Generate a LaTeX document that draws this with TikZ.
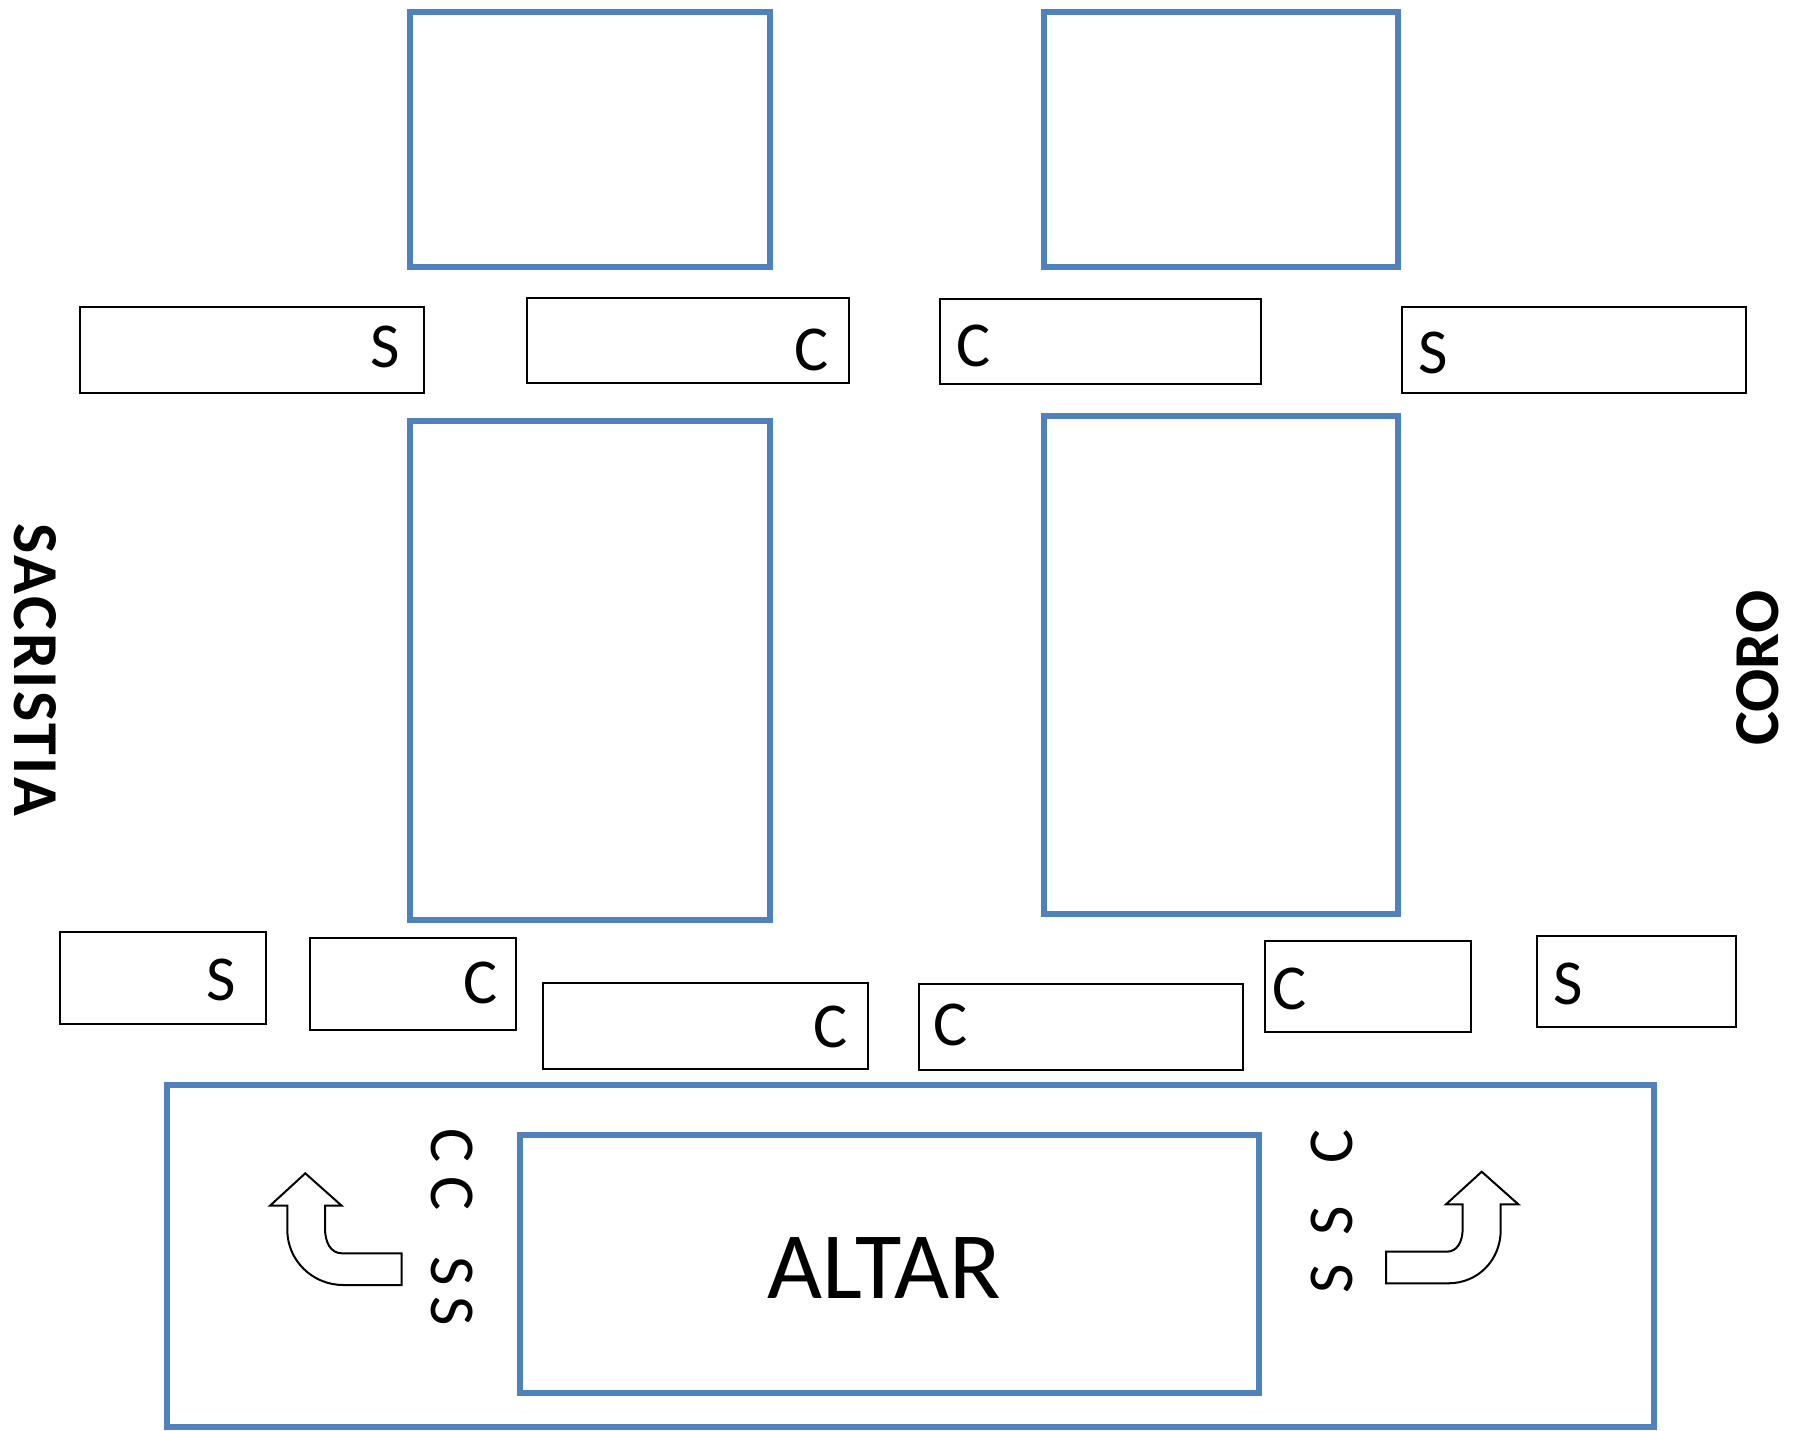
\documentclass[tikz,border=0pt]{standalone}
\usepackage{fontspec}
\setmainfont{Carlito}
\definecolor{blu}{HTML}{4F81BD}
\begin{document}
\begin{tikzpicture}[x=1pt,y=-1pt,
  bluebox/.style={draw=blu,line width=6pt,inner sep=0pt},
  seat/.style={draw=black,line width=2pt,inner sep=0pt},
  lett/.style={inner sep=0pt,font=\fontsize{64}{64}\selectfont},
  side/.style={inner sep=0pt,font=\fontsize{64}{64}\selectfont\bfseries},
  bigtext/.style={inner sep=0pt,font=\fontsize{95}{95}\selectfont},
  turnarrow/.style={draw=black,line width=2pt,fill=white,line join=miter}]
\useasboundingbox (0,0) rectangle (1798,1430);
% blue blocks
\node[bluebox,minimum width=360pt,minimum height=254.5pt] (tl) at (590,139.25) {};
\node[bluebox,minimum width=354pt,minimum height=254.5pt] (tr) at (1220.5,139.25) {};
\node[bluebox,minimum width=360pt,minimum height=499pt] (ml) at (590,670.5) {};
\node[bluebox,minimum width=354pt,minimum height=497.5pt] (mr) at (1220.5,664.75) {};
\node[bluebox,minimum width=1487pt,minimum height=342.5pt] (outer) at (910,1255.75) {};
\node[bluebox,minimum width=739pt,minimum height=258.5pt] (altar) at (889.5,1263.75) {};
\node[bigtext] (altart) at (884,1268) {ALTAR};
% seats top row
\node[seat,minimum width=344pt,minimum height=86pt] (s1) at (252,350) {};
\node[seat,minimum width=322pt,minimum height=85pt] (c1) at (688,340.5) {};
\node[seat,minimum width=321pt,minimum height=85pt] (c2) at (1100.5,341.5) {};
\node[seat,minimum width=344pt,minimum height=86pt] (s2) at (1574,350) {};
% seats bottom row
\node[seat,minimum width=206pt,minimum height=92pt] (s3) at (162.5,978) {};
\node[seat,minimum width=206pt,minimum height=92pt] (c3) at (413,984) {};
\node[seat,minimum width=325pt,minimum height=86pt] (c4) at (705.5,1026) {};
\node[seat,minimum width=324pt,minimum height=86pt] (c5) at (1081,1027) {};
\node[seat,minimum width=206pt,minimum height=91pt] (c6) at (1368,986.5) {};
\node[seat,minimum width=199pt,minimum height=91pt] (s4) at (1636.5,981.5) {};
% letters
\node[lett] (ls1) at (385,347) {S};
\node[lett] (lc1) at (812,350) {C};
\node[lett] (lc2) at (974,346) {C};
\node[lett] (ls2) at (1433,353) {S};
\node[lett] (ls3) at (221,980) {S};
\node[lett] (lc3) at (481,983) {C};
\node[lett] (lc4) at (831,1027) {C};
\node[lett] (lc5) at (951,1025) {C};
\node[lett] (lc6) at (1290,989) {C};
\node[lett] (ls4) at (1568,984) {S};
% vertical letters beside altar
\node[lett,rotate=-90] (v1) at (452,1146) {C};
\node[lett,rotate=-90] (v2) at (452,1194) {C};
\node[lett,rotate=-90] (v3) at (452,1271) {S};
\node[lett,rotate=-90] (v4) at (452,1311) {S};
\node[lett,rotate=90] (w1) at (1332,1146) {C};
\node[lett,rotate=90] (w2) at (1332,1221) {S};
\node[lett,rotate=90] (w3) at (1332,1279) {S};
% side labels
\node[side,rotate=-90] (sac) at (35,670) {\addfontfeature{LetterSpace=4.0}SACRISTIA};
\node[side,rotate=90] (coro) at (1757.5,668) {CORO};
% turning arrows
\draw[turnarrow] (305.3,1173.3) -- (341.7,1205.7) -- (325,1205.7) -- (325,1228)
  .. controls (325,1243) and (331,1253.3) .. (342,1253.3) -- (401.7,1253.3) -- (401.7,1285)
  -- (343.3,1285) .. controls (312,1285) and (287.3,1260) .. (287.3,1230)
  -- (287.3,1205.7) -- (270,1205.7) -- cycle;
\draw[turnarrow] (1481.7,1171.7) -- (1518.3,1204.3) -- (1500.7,1204.3) -- (1500.7,1230)
  .. controls (1500.7,1260) and (1478,1283.3) .. (1448.3,1283.3) -- (1386,1283.3)
  -- (1386,1251.7) -- (1446.7,1251.7) .. controls (1457,1251.7) and (1462.7,1242) .. (1462.7,1228)
  -- (1462.7,1204.3) -- (1446,1204.3) -- cycle;
\end{tikzpicture}
\end{document}
